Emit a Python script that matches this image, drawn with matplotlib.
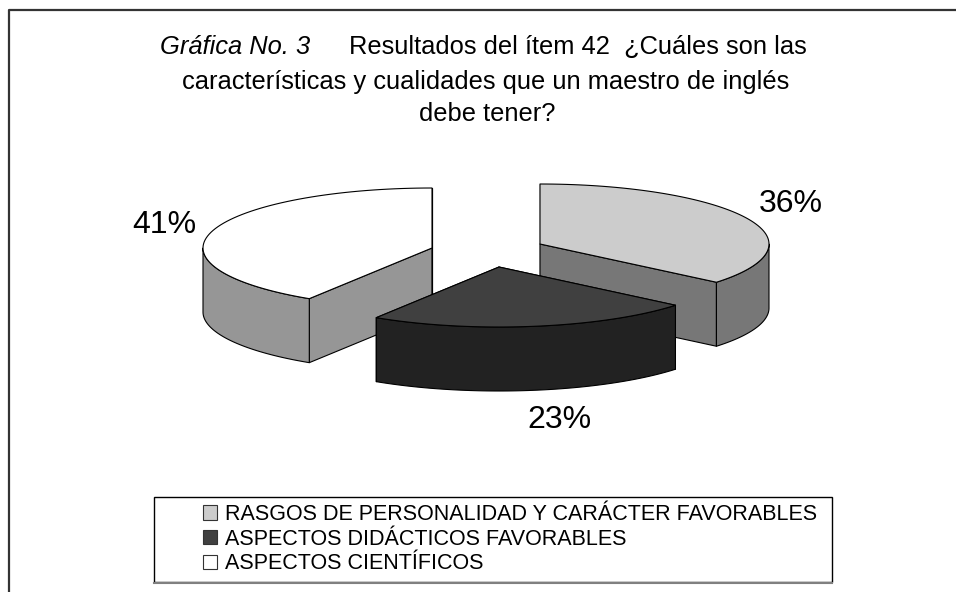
import numpy as np
import matplotlib
matplotlib.use('Agg')
import matplotlib.pyplot as plt
from matplotlib.patches import Patch, Rectangle

plt.rcParams['font.family'] = ['Liberation Sans', 'DejaVu Sans']

categories = ['RASGOS DE PERSONALIDAD Y CARÁCTER FAVORABLES',
              'ASPECTOS DIDÁCTICOS FAVORABLES',
              'ASPECTOS CIENTÍFICOS']
values = [36, 23, 41]
top_colors = ['#cccccc', '#404040', '#ffffff']
side_colors = ['#777777', '#222222', '#969696']

# pie geometry in pixels
apex = [(540, 244), (499, 267), (432, 248)]
rx = 229
ry = 60
depth = 64
label_pos = [(791, 204), (559, 420), (164, 225)]


def pt(i, ang, dy=0):
    # ang in radians, clockwise from 12 o'clock
    return apex[i][0] + rx * np.sin(ang), apex[i][1] - ry * np.cos(ang) + dy


def arc(i, a0, a1, dy=0):
    t = np.linspace(a0, a1, 80)
    return pt(i, t, dy)


def draw_slice(i, a0, a1):
    cx, cy = apex[i]
    kw = dict(edgecolor='black', linewidth=0.8, joinstyle='round')

    # the two flat cut walls
    for a in (a0, a1):
        x, y = pt(i, a)
        ax.fill([cx, x, x, cx], [cy, y, y + depth, cy + depth],
                facecolor=side_colors[i], **kw)

    # outer rim, only the part facing the viewer
    lo = max(a0, np.pi / 2)
    hi = min(a1, 3 * np.pi / 2)
    if lo < hi:
        x, y = arc(i, lo, hi)
        ax.fill(np.r_[x, x[::-1]], np.r_[y, y[::-1] + depth],
                facecolor=side_colors[i], **kw)

    x, y = arc(i, a0, a1)
    ax.fill(np.r_[cx, x], np.r_[cy, y], facecolor=top_colors[i], **kw)


fig = plt.figure(figsize=(9.56, 5.92), dpi=100)
ax = fig.add_axes([0, 0, 1, 1])
ax.set_xlim(0, 956)
ax.set_ylim(592, 0)
ax.axis('off')

# outer frame
ax.plot([9.5, 9.5, 956], [592, 10, 10], color='#333333', lw=1.6)

angles = np.r_[0, np.cumsum(values)] / sum(values) * 2 * np.pi
for i in [2, 0, 1]:
    draw_slice(i, angles[i], angles[i + 1])

for i, v in enumerate(values):
    ax.text(label_pos[i][0], label_pos[i][1], f'{v}%', fontsize=23,
            ha='center', va='center')

# title
ax.text(160, 46.5, 'Gráfica No. 3', fontsize=18.4, style='italic', va='center')
ax.text(349, 46.5, 'Resultados del ítem 42  ¿Cuáles son las', fontsize=18.4, va='center')
ax.text(486, 81.5, 'características y cualidades que un maestro de inglés',
        fontsize=18.4, ha='center', va='center')
ax.text(487, 114, 'debe tener?', fontsize=18.4, ha='center', va='center')

# legend box
ax.add_patch(Rectangle((154, 497), 678, 85, facecolor='white', edgecolor='black', lw=1.0))
ax.plot([154, 832], [582.5, 582.5], color='#808080', lw=1.5)

handles = [Patch(facecolor=c, edgecolor='#333333', linewidth=0.8) for c in top_colors]
leg = ax.legend(handles, categories, loc='upper left', bbox_to_anchor=(203, 504),
                bbox_transform=ax.transData, fontsize=15.5, frameon=False,
                borderpad=0, labelspacing=0.17, handlelength=0.65,
                handleheight=0.65, handletextpad=0.37, borderaxespad=0)

fig.savefig('out.png', dpi=100)
